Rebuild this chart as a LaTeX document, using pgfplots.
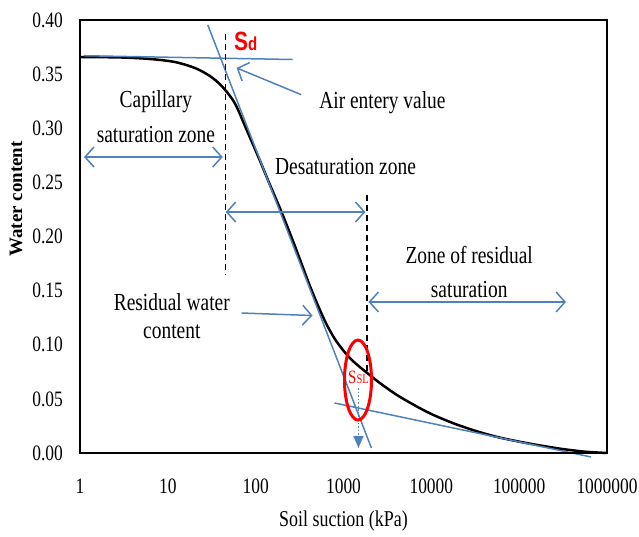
\documentclass[border=0pt]{standalone}
\usepackage{pgfplots}
\pgfplotsset{compat=1.18}
\usepackage{fontspec}
\setmainfont{Liberation Serif}
\newfontfamily\sansf{Liberation Sans}
\usetikzlibrary{arrows.meta}
\usepackage{graphicx}
\newcommand\vs[1]{\scalebox{1}[1.26]{#1}}
\definecolor{tb}{RGB}{79,129,189}
\newcommand\fs[1]{\fontsize{#1}{#1}\selectfont}
\begin{document}
\begin{tikzpicture}[x=1bp,y=1bp]
\begin{axis}[
  at={(0,0)}, anchor=south west,
  width=527bp, height=433bp, scale only axis,
  xmode=log, xmin=1, xmax=1e6, ymin=0, ymax=0.4,
  xtick={1,10,100,1000,10000,100000,1000000},
  xticklabels={\vs{1},\vs{10},\vs{100},\vs{1000},\vs{10000},\vs{100000},\vs{1000000}},
  ytick={0,0.05,0.1,0.15,0.2,0.25,0.3,0.35,0.4},
  yticklabels={\vs{0.00},\vs{0.05},\vs{0.10},\vs{0.15},\vs{0.20},\vs{0.25},\vs{0.30},\vs{0.35},\vs{0.40}},
  xminorticks=false, yminorticks=false,
  tick style={draw=none}, major tick length=0pt,
  xticklabel style={font=\fs{17.5}, anchor=center, yshift=-33bp, inner sep=0pt},
  yticklabel style={font=\fs{17.5}, anchor=east, xshift=-17bp, inner sep=0pt},
  axis line style={line width=2.5bp},
  clip=false, axis on top,
  xlabel={\vs{Soil suction (kPa)}},
  xlabel style={font=\fs{18}, at={(axis description cs:0.5,0)}, anchor=center, yshift=-68bp, inner sep=0pt},
  ylabel={\bfseries Water content},
  ylabel style={font=\fs{19}, at={(axis description cs:-0.1214,0.587)}, anchor=center, inner sep=0pt},
]
% main curve
\addplot[black, line width=2.5bp, smooth] coordinates {
 (1,0.3658) (2.85,0.3654) (6.24,0.364) (12.0,0.3612) (20.3,0.3557) (30.0,0.3483)
 (41.1,0.339) (57.7,0.3233) (79.0,0.2984) (111,0.2707) (144,0.2485) (197,0.2226)
 (277,0.1921) (398,0.158) (501,0.138) (631,0.120) (794,0.1055) (1000,0.0945)
 (1259,0.0855) (1585,0.0785) (2512,0.0655) (3981,0.054) (6310,0.0445) (10000,0.036)
 (17780,0.0275) (31620,0.0205) (56230,0.0148) (100000,0.0105) (177800,0.0068)
 (316200,0.0036) (562300,0.0012) (1000000,0)
};
% tangent lines
\addplot[tb, line width=1.5bp] coordinates {(1.1,0.367) (263,0.3635)};
\addplot[tb, line width=1.5bp] coordinates {(28.5,0.3954) (2080,0.0046)};
\addplot[tb, line width=1.5bp] coordinates {(790,0.0462) (658000,-0.0037)};
% dashed verticals
\addplot[black, line width=1.2bp, dash pattern=on 6bp off 4bp] coordinates {(45.6,0.387) (45.6,0.1644)};
\addplot[black, line width=1.2bp, dash pattern=on 6bp off 4bp] coordinates {(1850,0.2383) (1850,0.0739)};
% arrows
\tikzset{barb/.tip={Straight Barb[length=9bp,width=20bp]}}
\draw[tb, line width=1.5bp, barb-barb] (axis cs:1.11,0.2734) -- (axis cs:42.2,0.2734);
\draw[tb, line width=1.5bp, barb-barb] (axis cs:45.6,0.2226) -- (axis cs:1778,0.2226);
\draw[tb, line width=1.5bp, barb-barb] (axis cs:1923,0.1395) -- (axis cs:342000,0.1395);
\draw[tb, line width=1.5bp, -barb] (axis cs:69.3,0.1293) -- (axis cs:444,0.127);
\draw[tb, line width=1.5bp, -barb] (axis cs:330,0.331) -- (axis cs:60.8,0.3557);
\draw[tb, line width=1.5bp, dotted, -{Triangle[length=12bp,width=10bp]}] (axis cs:1480,0.060) -- (axis cs:1480,0.0046);
% ellipse
\draw[red, line width=3bp] (axis cs:1462,0.0674) ellipse [x radius=13.5bp, y radius=40bp];
% texts
\node[font=\fs{19.5}] at (axis cs:7.31,0.3243) {\vs{Capillary}};
\node[font=\fs{19.5}] at (axis cs:7.31,0.2938) {\vs{saturation zone}};
\node[font=\fs{19.5}] at (axis cs:2775,0.3233) {\vs{Air entery value}};
\node[font=\fs{19.5}] at (axis cs:1054,0.2651) {\vs{Desaturation zone}};
\node[font=\fs{19.5}] at (axis cs:27000,0.1829) {\vs{Zone of residual}};
\node[font=\fs{19.5}] at (axis cs:27000,0.1506) {\vs{saturation}};
\node[font=\fs{19.5}] at (axis cs:11.1,0.1395) {\vs{Residual water}};
\node[font=\fs{19.5}] at (axis cs:11.1,0.1118) {\vs{content}};
\node[red, inner sep=0pt] at (axis cs:76.9,0.3806) {\vs{\sansf\bfseries{\fs{21}S}{\fs{15}d}}};
\node[red, inner sep=0pt] at (axis cs:1480,0.0702) {\vs{{\fs{15}S}{\fs{10.5}SL}}};
\end{axis}
\pgfresetboundingbox
\useasboundingbox (-80,-84) rectangle (559,453);
\end{tikzpicture}
\end{document}
